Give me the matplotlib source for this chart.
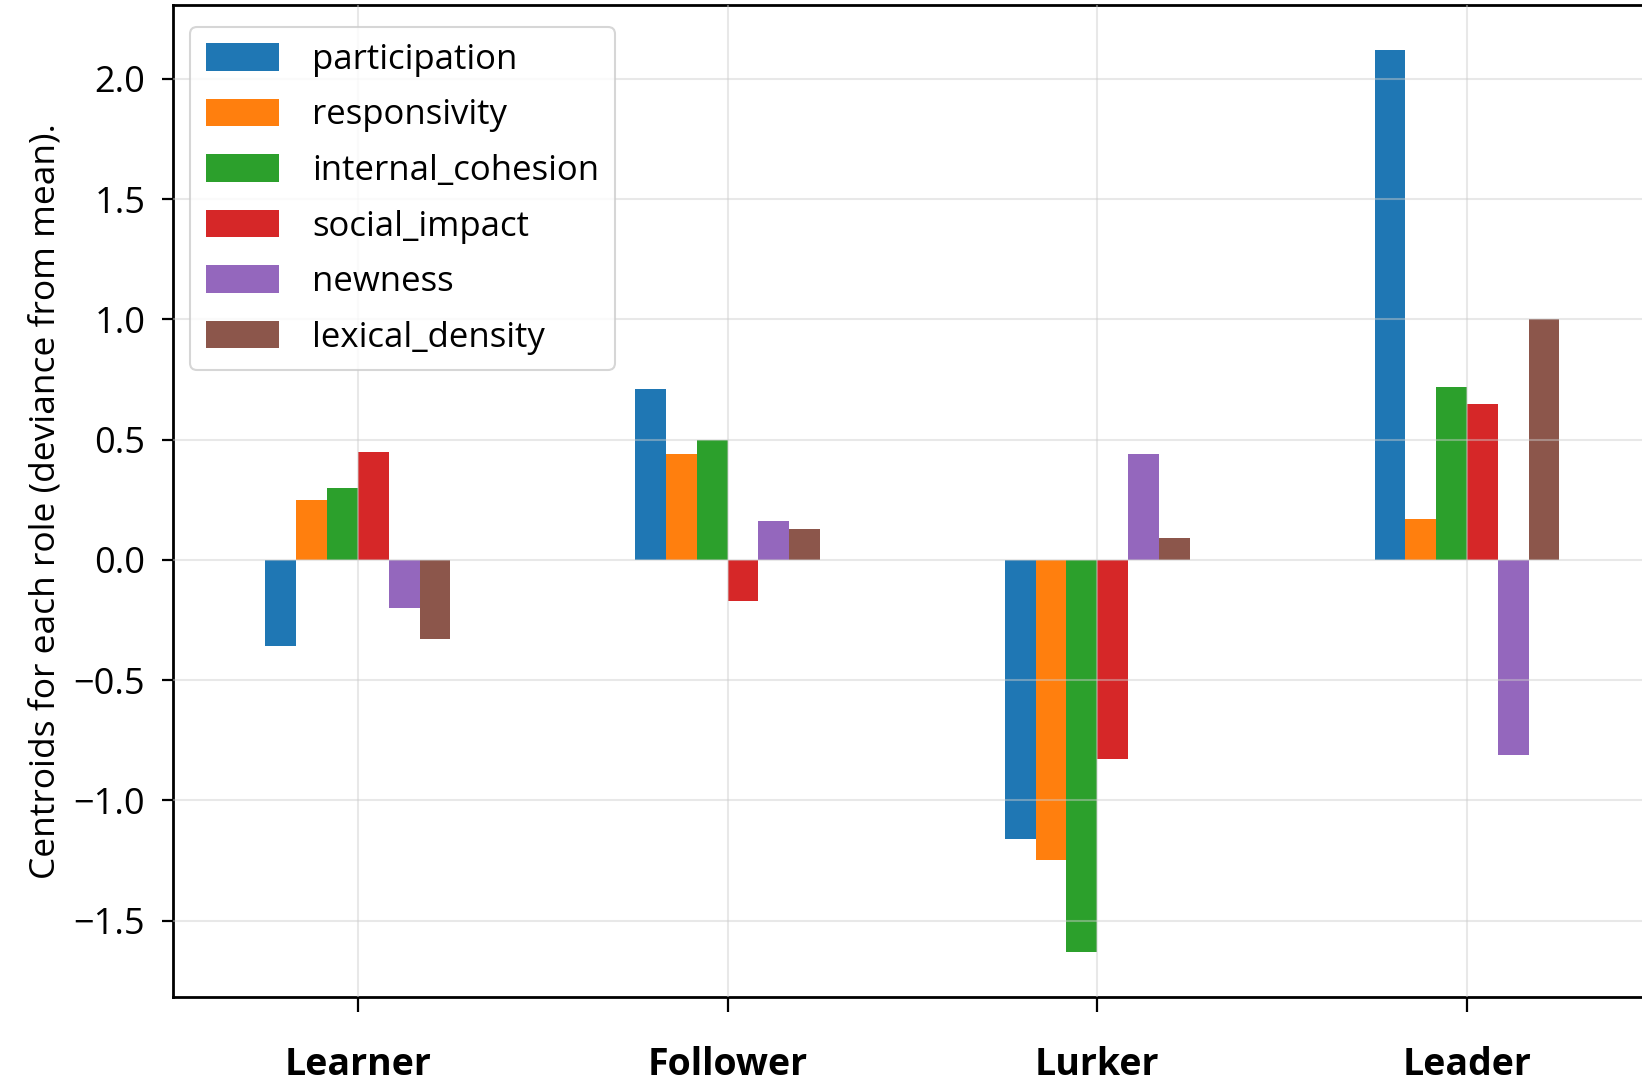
import matplotlib
matplotlib.use("Agg")
import matplotlib.pyplot as plt
import numpy as np

roles = ["Learner", "Follower", "Lurker", "Leader"]
participation = [-0.36, 0.71, -1.16, 2.12]
responsivity = [0.25, 0.44, -1.25, 0.17]
internal_cohesion = [0.30, 0.50, -1.63, 0.72]
social_impact = [0.45, -0.17, -0.83, 0.65]
newness = [-0.20, 0.16, 0.44, -0.81]
lexical_density = [-0.33, 0.13, 0.09, 1.00]

series = [
    ("participation", participation),
    ("responsivity", responsivity),
    ("internal_cohesion", internal_cohesion),
    ("social_impact", social_impact),
    ("newness", newness),
    ("lexical_density", lexical_density),
]

plt.rcParams["font.family"] = ["Open Sans", "DejaVu Sans"]

fig = plt.figure(figsize=(16.42, 10.82), dpi=100)
ax = fig.add_axes([0.1054, 0.0786, 0.9006, 0.9168])

x = np.arange(len(roles))
w = 0.5 / len(series)
for j, (name, vals) in enumerate(series):
    ax.bar(x + (j - (len(series) - 1) / 2) * w, vals, width=w,
           color="C" + str(j), label=name)

ax.set_xlim(-0.5, 3.5)
ax.set_xticks(x)
ax.set_xticklabels(roles, fontsize=27, fontweight="bold")
ax.set_yticks([-1.5, -1.0, -0.5, 0.0, 0.5, 1.0, 1.5, 2.0])
ax.set_yticklabels(["\u22121.5", "\u22121.0", "\u22120.5", "0.0", "0.5", "1.0", "1.5", "2.0"])
ax.tick_params(axis="y", labelsize=26, length=8, width=1.6, pad=12)
ax.tick_params(axis="x", length=11, width=1.6, pad=24)
for s in ax.spines.values():
    s.set_linewidth(2)

ax.grid(True, color="#cccccc", alpha=0.45, linewidth=1.5)
ax.set_axisbelow(False)

ax.set_ylabel("Centroids for each role (deviance from mean).", fontsize=25.5, labelpad=8)

leg = ax.legend(loc="upper left", fontsize=25, handlelength=2.1, handleheight=0.85,
                labelspacing=0.62, handletextpad=0.95, borderpad=0.45,
                bbox_to_anchor=(0.0, 0.995))
leg.get_frame().set_linewidth(1.5)

fig.savefig("out.png", dpi=100)
